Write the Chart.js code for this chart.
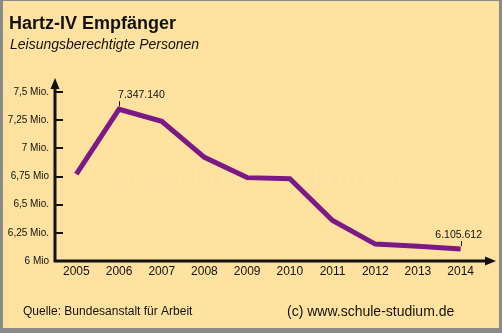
<!DOCTYPE html>
<html>
<head>
<meta charset="utf-8">
<script src="https://cdn.jsdelivr.net/npm/chart.js@4/dist/chart.umd.min.js"></script>
<style>
  html, body { margin: 0; padding: 0; background: #ffe29f; }
  #wrap { width: 502px; height: 333px; }
</style>
</head>
<body>
<div id="wrap"><canvas id="chart" width="502" height="333"></canvas></div>
<script>
// Hartz-IV Empfänger, Mio. Personen
const years = ["2005", "2006", "2007", "2008", "2009", "2010", "2011", "2012", "2013", "2014"];
const recipients = [6.77, 7.347, 7.24, 6.92, 6.74, 6.73, 6.36, 6.15, 6.13, 6.106];
const valueLabels = [null, "7.347.140", null, null, null, null, null, null, null, "6.105.612"];
const yTickLabels = ["6 Mio", "6,25 Mio.", "6,5 Mio.", "6,75 Mio", "7 Mio.", "7,25 Mio.", "7,5 Mio."];

const FONT = "'Liberation Sans', Arial, sans-serif";
const INK = "#111";

const decor = {
  id: "decor",
  beforeDraw(chart) {
    const c = chart.ctx;
    const W = chart.width, H = chart.height;
    c.save();
    c.fillStyle = "#8a8a8a";
    c.fillRect(0, 0, W, H);
    c.fillStyle = "#ffe29f";
    c.fillRect(3, 1, W - 6, H - 6);

    // watermark
    c.fillStyle = "rgba(255,255,255,0.07)";
    c.font = "31px " + FONT;
    c.textBaseline = "alphabetic";
    c.fillText("www.schule-studium.de", 87, 188);

    c.fillStyle = INK;
    c.font = "bold 18px " + FONT;
    c.fillText("Hartz-IV Empfänger", 9, 29);
    c.font = "italic 14px " + FONT;
    c.fillText("Leisungsberechtigte Personen", 10, 49);
    c.font = "12px " + FONT;
    c.fillText("Quelle: Bundesanstalt für Arbeit", 23, 315);
    c.font = "14px " + FONT;
    c.fillText("(c) www.schule-studium.de", 287, 316);
    c.restore();
  },
  beforeDatasetsDraw(chart) {
    const c = chart.ctx;
    const y = chart.scales.y;
    const x0 = 55, yb = 261;
    c.save();
    c.strokeStyle = INK;
    c.fillStyle = INK;
    c.lineWidth = 3;
    c.beginPath();
    c.moveTo(x0, yb);
    c.lineTo(x0, 86);
    c.moveTo(x0 - 1.5, yb);
    c.lineTo(487, yb);
    c.stroke();
    // arrows
    c.beginPath();
    c.moveTo(x0, 78);
    c.lineTo(x0 - 4.5, 89);
    c.lineTo(x0 + 4.5, 89);
    c.closePath();
    c.fill();
    c.beginPath();
    c.moveTo(496, yb);
    c.lineTo(485, yb - 4.5);
    c.lineTo(485, yb + 4.5);
    c.closePath();
    c.fill();
    // y tick marks
    c.lineWidth = 2;
    y.ticks.forEach(t => {
      const py = Math.round(y.getPixelForValue(t.value));
      c.beginPath();
      c.moveTo(x0, py);
      c.lineTo(x0 + 8, py);
      c.stroke();
    });
    c.restore();
  },
  afterDatasetsDraw(chart) {
    const c = chart.ctx;
    const pts = chart.getDatasetMeta(0).data;
    c.save();
    c.fillStyle = INK;
    c.strokeStyle = INK;
    c.lineWidth = 1;
    c.font = "10.5px " + FONT;
    c.textBaseline = "alphabetic";
    valueLabels.forEach((txt, i) => {
      if (!txt) return;
      const p = pts[i];
      const px = Math.round(p.x) + 0.5;
      c.beginPath();
      c.moveTo(px, p.y - 3);
      c.lineTo(px, p.y - 8);
      c.stroke();
      c.textAlign = i === 1 ? "left" : "center";
      c.fillText(txt, i === 1 ? p.x - 1 : p.x - 2, p.y - 11);
    });
    c.restore();
  }
};

new Chart(document.getElementById("chart"), {
  type: "line",
  data: {
    labels: years,
    datasets: [{
      data: recipients,
      borderColor: "#7b1a86",
      borderWidth: 5,
      borderJoinStyle: "miter",
      pointRadius: 0,
      tension: 0,
      fill: false
    }]
  },
  options: {
    responsive: false,
    animation: false,
    layout: { padding: { left: 0, right: 20, top: 92, bottom: 0 } },
    plugins: { legend: { display: false }, tooltip: { enabled: false } },
    scales: {
      x: {
        type: "category",
        offset: true,
        grid: { display: false, drawTicks: false },
        border: { display: false },
        ticks: { color: INK, padding: 3, font: { family: FONT, size: 12 }, maxRotation: 0, autoSkip: false },
        afterFit(s) { s.height = 72; }
      },
      y: {
        min: 6,
        max: 7.5,
        grid: { display: false, drawTicks: false },
        border: { display: false },
        ticks: {
          stepSize: 0.25,
          color: INK,
          padding: 6,
          font: { family: FONT, size: 10 },
          callback: (v, i) => yTickLabels[i]
        },
        afterFit(s) { s.width = 55; }
      }
    }
  },
  plugins: [decor]
});
</script>
</body>
</html>
